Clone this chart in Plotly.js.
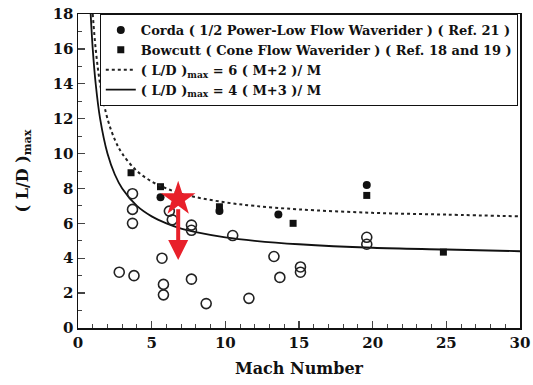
<!DOCTYPE html>
<html><head><meta charset="utf-8">
<script src="https://cdn.plot.ly/plotly-3.0.1.min.js"></script>
<style>html,body{margin:0;padding:0;background:#fff}#chart{width:533px;height:385px}</style>
</head><body><div id="chart"></div>
<script>
// Corda (filled circles)
const cordaM = [5.6, 9.6, 13.6, 19.6];
const cordaLD = [7.5, 6.7, 6.5, 8.2];
// Bowcutt (filled squares)
const bowM = [3.6, 5.6, 9.6, 14.6, 19.6, 24.8];
const bowLD = [8.9, 8.1, 6.95, 6.0, 7.6, 4.35];
// other configurations (open circles)
const openM = [3.7, 3.7, 3.7, 6.2, 6.4, 7.7, 7.7, 10.5, 5.7, 2.8, 3.8, 5.8, 5.8, 7.7, 8.7, 11.6, 13.3, 13.7, 15.1, 15.1, 19.6, 19.6];
const openLD = [7.7, 6.8, 6.0, 6.7, 6.2, 5.9, 5.6, 5.3, 4.0, 3.2, 3.0, 2.5, 1.9, 2.8, 1.4, 1.7, 4.1, 2.9, 3.5, 3.2, 5.2, 4.8];
// curves
const dotM = [1.0, 1.2, 1.5, 2, 2.5, 3, 4, 5, 6, 7, 8, 10, 12, 15, 20, 25, 30];
const dotLD = [18.0, 16.0, 14.0, 12.0, 10.8, 10.0, 9.0, 8.4, 8.0, 7.7, 7.5, 7.2, 7.0, 6.8, 6.6, 6.5, 6.4];
const solM = [0.86, 1.0, 1.2, 1.5, 2, 2.5, 3, 4, 5, 6, 7, 8, 10, 12, 15, 20, 25, 30];
const solLD = [18.0, 16.0, 14.0, 12.0, 10.0, 8.8, 8.0, 7.0, 6.4, 6.0, 5.7, 5.5, 5.2, 5.0, 4.8, 4.6, 4.5, 4.4];
// red annotation
const starM = [6.8], starLD = [7.4];
const arrowM = 6.8, arrowTop = 6.9, arrowBottom = 3.9;

const F = "DejaVu Serif";
const traces = [
  {x: cordaM, y: cordaLD, mode: 'markers', type: 'scatter', name: 'Corda ( 1/2 Power-Low Flow Waverider ) ( Ref. 21 )',
   marker: {symbol: 'circle', size: 8, color: '#111'}},
  {x: bowM, y: bowLD, mode: 'markers', type: 'scatter', name: 'Bowcutt ( Cone Flow Waverider ) ( Ref. 18 and 19 )',
   marker: {symbol: 'square', size: 7, color: '#111'}},
  {x: dotM, y: dotLD, mode: 'lines', type: 'scatter', name: '( L/D )<sub>max</sub> = 6 ( M+2 )/ M',
   line: {color: '#222', width: 2, dash: 'dot', shape: 'spline'}},
  {x: solM, y: solLD, mode: 'lines', type: 'scatter', name: '( L/D )<sub>max</sub> = 4 ( M+3 )/ M',
   line: {color: '#111', width: 1.8, shape: 'spline'}},
  {x: openM, y: openLD, mode: 'markers', type: 'scatter', showlegend: false,
   marker: {symbol: 'circle-open', size: 10, color: '#222', line: {width: 1.6, color: '#222'}}},
  {x: starM, y: starLD, mode: 'markers', type: 'scatter', showlegend: false,
   marker: {symbol: 'star', size: 26, color: '#e8202a', line: {width: 0}}}
];
const layout = {
  width: 533, height: 385,
  margin: {l: 78, r: 13, t: 14, b: 57},
  paper_bgcolor: '#fff', plot_bgcolor: '#fff',
  font: {family: F, size: 14, color: '#111'},
  showlegend: true,
  legend: {x: 0.995, y: 1.0, xanchor: 'right', yanchor: 'top', bgcolor: '#fff',
    bordercolor: '#111', borderwidth: 1, font: {family: F, size: 13, color: '#111', weight: 'bold'},
    tracegroupgap: 0, itemwidth: 30},
  xaxis: {range: [0, 30], tickvals: [0,5,10,15,20,25,30], ticks: 'inside', ticklen: 7, tickwidth: 1.3,
    minor: {dtick: 1, ticks: 'inside', ticklen: 4, tickwidth: 1}, showgrid: false, zeroline: false,
    showline: true, mirror: true, linecolor: '#111', linewidth: 1.5,
    tickfont: {family: F, size: 15, weight: 'bold'},
    title: {text: 'Mach Number', font: {family: F, size: 16, weight: 'bold'}, standoff: 12}},
  yaxis: {range: [0, 18], dtick: 2, ticks: 'inside', ticklen: 7, tickwidth: 1.3,
    minor: {dtick: 1, ticks: 'inside', ticklen: 4, tickwidth: 1}, showgrid: false, zeroline: false,
    showline: true, mirror: true, linecolor: '#111', linewidth: 1.5,
    tickfont: {family: F, size: 15, weight: 'bold'},
    title: {text: '( L/D )<sub>max</sub>', font: {family: F, size: 16, weight: 'bold'}, standoff: 20}},
  annotations: [{x: arrowM, y: arrowBottom, ax: arrowM, ay: arrowTop, xref: 'x', yref: 'y', axref: 'x', ayref: 'y',
    text: '', showarrow: true, arrowhead: 2, arrowside: 'end', arrowsize: 1, arrowwidth: 4, arrowcolor: '#e8202a'}]
};
Plotly.newPlot('chart', traces, layout, {displayModeBar: false, staticPlot: true});
</script></body></html>
